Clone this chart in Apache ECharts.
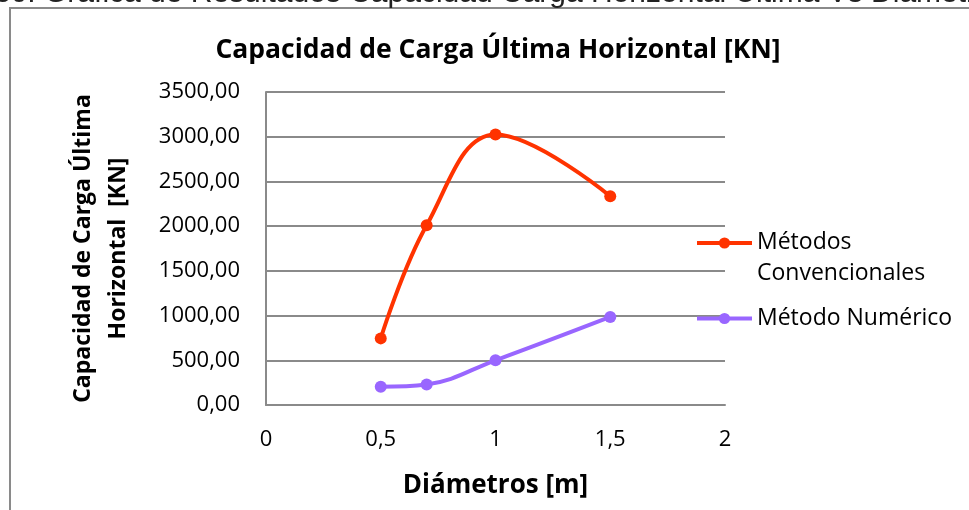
<!DOCTYPE html>
<html>
<head>
<meta charset="utf-8">
<script src="https://cdn.jsdelivr.net/npm/echarts@6/dist/echarts.min.js"></script>
<style>
html,body{margin:0;padding:0;background:#fff;}
#c{width:969px;height:510px;}
</style>
</head>
<body>
<div id="c"></div>
<script>
var diametros = [0.5, 0.7, 1.0, 1.5];
var convencionales = [745, 2010, 3025, 2335];
var numerico = [205, 230, 500, 985];
var seriesNames = ['Métodos Convencionales', 'Método Numérico'];
var chartTitle = 'Capacidad de Carga Última Horizontal [KN]';
var captionText = '30. Gráfica de Resultados Capacidad Carga Horizontal Última Vs Diámetro';
var xTitle = 'Diámetros [m]';
var yTitle = 'Capacidad de Carga Última\nHorizontal  [KN]';

var colors = ['#FF3300', '#9966FF'];
var font = '"Open Sans", Lato, sans-serif';

function pairs(xs, ys) { return xs.map(function (x, i) { return [x, ys[i]]; }); }

var chart = echarts.init(document.getElementById('c'), null, {renderer: 'canvas'});
chart.setOption({
  backgroundColor: '#fff',
  animation: false,
  title: {
    text: chartTitle,
    left: 493, top: 32, textAlign: 'center',
    textStyle: {fontFamily: font, fontWeight: 'bold', fontSize: 26.5, color: '#000'}
  },
  graphic: [
    {type: 'text', x: -6, y: -6, style: {text: captionText, font: '30px "Liberation Sans", Arial, sans-serif', fill: '#222', verticalAlign: 'middle', align: 'left'}},
    {type: 'rect', shape: {x: 10, y: 8, width: 1100, height: 700}, style: {fill: 'none', stroke: '#8a8a8a', lineWidth: 2}, z: -1}
  ],
  grid: {left: 266, right: 244, top: 92, bottom: 105, containLabel: false},
  legend: [
    {
      data: [seriesNames[0]], left: 690, top: 226, orient: 'vertical',
      itemWidth: 55, itemHeight: 14, itemGap: 0,
      lineStyle: {width: 4},
      formatter: function (n) {
        var parts = n.split(' ');
        return '{a|' + parts[0] + '}\n{b|' + parts.slice(1).join(' ') + '}';
      },
      textStyle: {fontFamily: font, fontSize: 23, color: '#000',
        rich: {
          a: {fontFamily: font, fontSize: 23, color: '#000', lineHeight: 61},
          b: {fontFamily: font, fontSize: 23, color: '#000', lineHeight: 1}
        }
      }
    },
    {
      data: [seriesNames[1]], left: 690, top: 302, orient: 'vertical',
      itemWidth: 55, itemHeight: 14,
      lineStyle: {width: 4},
      textStyle: {fontFamily: font, fontSize: 23, color: '#000'}
    }
  ],
  xAxis: {
    type: 'value', min: 0, max: 2, interval: 0.5,
    name: xTitle, nameLocation: 'middle', nameGap: 68,
    nameTextStyle: {fontFamily: font, fontWeight: 'bold', fontSize: 26, color: '#000'},
    axisLine: {show: true, onZero: false, lineStyle: {color: '#8a8a8a', width: 2}},
    axisTick: {show: false},
    splitLine: {show: false},
    axisLabel: {margin: 24, fontFamily: font, fontSize: 22, color: '#000',
      formatter: function (v) { return String(v).replace('.', ','); }}
  },
  yAxis: {
    type: 'value', min: 0, max: 3500, interval: 500,
    name: yTitle, nameLocation: 'middle', nameGap: 130, nameRotate: 90,
    nameTextStyle: {fontFamily: font, fontWeight: 'bold', fontSize: 23, color: '#000', lineHeight: 35},
    axisLine: {show: true, lineStyle: {color: '#8a8a8a', width: 2}},
    axisTick: {show: false},
    splitLine: {show: true, lineStyle: {color: '#8a8a8a', width: 2}},
    axisLabel: {margin: 26, fontFamily: font, fontSize: 22, color: '#000',
      formatter: function (v) { return v.toFixed(2).replace('.', ','); }}
  },
  series: [
    {
      name: seriesNames[0], type: 'line', data: pairs(diametros, convencionales),
      smooth: 0.4, symbol: 'circle', symbolSize: 12,
      lineStyle: {color: colors[0], width: 4}, itemStyle: {color: colors[0]}
    },
    {
      name: seriesNames[1], type: 'line', data: pairs(diametros, numerico),
      smooth: 0.4, symbol: 'circle', symbolSize: 12,
      lineStyle: {color: colors[1], width: 4}, itemStyle: {color: colors[1]}
    }
  ]
});
</script>
</body>
</html>
